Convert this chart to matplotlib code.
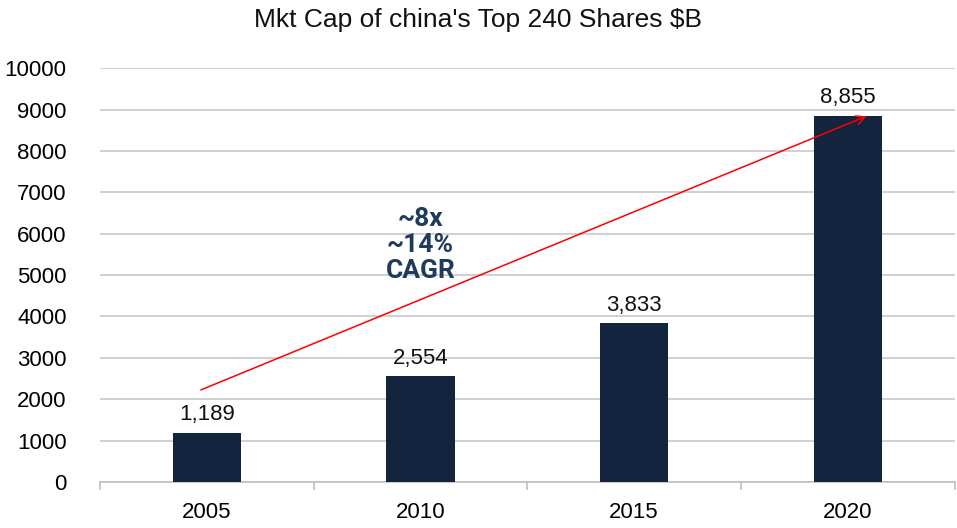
import matplotlib
matplotlib.use("Agg")
import matplotlib.pyplot as plt

years = ["2005", "2010", "2015", "2020"]
mkt_cap = [1189, 2554, 3833, 8855]
value_labels = ["1,189", "2,554", "3,833", "8,855"]

plt.rcParams["font.family"] = ["Liberation Sans", "DejaVu Sans"]

fig = plt.figure(figsize=(9.57, 5.28), dpi=100)
ax = fig.add_axes([0.1045, 0.087, 0.893, 0.784])

x = list(range(len(years)))
ax.bar(x, mkt_cap, width=0.32, color="#13243F", zorder=3)
for xi, v, lab in zip(x, mkt_cap, value_labels):
    ax.text(xi, v + 180, lab, ha="center", va="bottom", fontsize=16, color="#111111")

ax.set_xlim(-0.5, 3.5)
ax.set_ylim(0, 10000)
ax.set_yticks(range(0, 10001, 1000))
ax.tick_params(axis="y", length=0, labelsize=16, pad=24)
ax.set_xticks(x)
ax.set_xticklabels(years)
ax.tick_params(axis="x", length=0, labelsize=16, pad=14)
ax.set_xticks([-0.5, 0.5, 1.5, 2.5, 3.5], minor=True)
ax.tick_params(axis="x", which="minor", length=6, color="#BFBFBF", width=1.2)

ax.grid(axis="y", color="#C8C8C8", linewidth=1.2, zorder=0)
for s in ["top", "right", "left"]:
    ax.spines[s].set_visible(False)
ax.spines["bottom"].set_color("#BFBFBF")
ax.spines["bottom"].set_linewidth(1.2)

# growth arrow
ax.annotate("", xy=(3.1, 8865), xytext=(-0.04, 2200),
            arrowprops=dict(arrowstyle="->", color="red", lw=1.1, mutation_scale=16),
            zorder=4)
ax.text(1.0, 5720, "~8x\n~14%\nCAGR", ha="center", va="center", fontsize=19,
        fontweight="bold", color="#1F3A5A", family=["Roboto", "DejaVu Sans"],
        linespacing=1.1, zorder=5)

fig.suptitle("Mkt Cap of china's Top 240 Shares $B", y=0.985, fontsize=19, color="#111111")

fig.savefig("out.png", dpi=100)
